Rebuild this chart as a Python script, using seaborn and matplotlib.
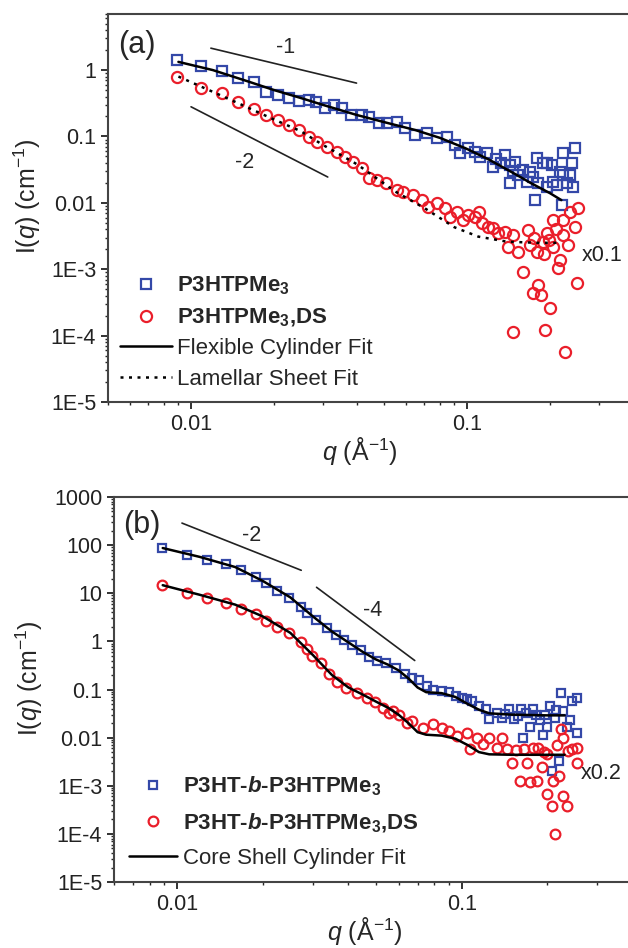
import numpy as np
import pandas as pd
import matplotlib
matplotlib.use('Agg')
import matplotlib.pyplot as plt
import matplotlib.ticker as mticker
import seaborn as sns

# ---- panel (a) data ----
qa_blue = [0.0089, 0.0109, 0.0129, 0.0148, 0.0169, 0.0187, 0.0207, 0.0227, 0.0247, 0.0268,
           0.0284, 0.0305, 0.0331, 0.0354, 0.0381, 0.0415, 0.0443, 0.0482, 0.0515, 0.0557,
           0.0595, 0.0647, 0.0715, 0.0778, 0.0846, 0.0904, 0.0943, 0.1008, 0.107, 0.1115,
           0.118, 0.1243, 0.128, 0.133, 0.1374, 0.1433, 0.1433, 0.147, 0.1494, 0.1532,
           0.1598, 0.1652, 0.1694, 0.1738, 0.1767, 0.1797, 0.1811, 0.1888, 0.1954, 0.1954,
           0.2037, 0.2055, 0.2125, 0.2180, 0.2215, 0.2234, 0.2234, 0.2310, 0.2369, 0.2409,
           0.2427, 0.2471]
Ia_blue = [1.41, 1.15, 0.97, 0.76, 0.66, 0.47, 0.42, 0.38, 0.34, 0.35,
           0.33, 0.27, 0.30, 0.27, 0.21, 0.21, 0.196, 0.16, 0.16, 0.165,
           0.134, 0.105, 0.112, 0.095, 0.098, 0.074, 0.056, 0.067, 0.058, 0.049,
           0.056, 0.035, 0.045, 0.040, 0.0525, 0.037, 0.020, 0.030, 0.041, 0.026,
           0.031, 0.0206, 0.029, 0.0245, 0.011, 0.047, 0.020, 0.040, 0.0173, 0.040,
           0.037, 0.0206, 0.0185, 0.029, 0.0093, 0.056, 0.026, 0.020, 0.026, 0.040,
           0.0173, 0.067]

qa_red = [0.0089, 0.0109, 0.0129, 0.0148, 0.0169, 0.0187, 0.0206, 0.0227, 0.0247, 0.0268,
          0.0287, 0.031, 0.0337, 0.036, 0.0385, 0.0415, 0.0443, 0.0474, 0.051, 0.0557,
          0.0585, 0.0636, 0.069, 0.0721, 0.0776, 0.0833, 0.0866, 0.0918, 0.0965, 0.101,
          0.107, 0.111, 0.113, 0.119, 0.124, 0.130, 0.137, 0.141, 0.147, 0.147,
          0.153, 0.160, 0.166, 0.169, 0.174, 0.175, 0.180, 0.181, 0.186, 0.188,
          0.19, 0.192, 0.195, 0.198, 0.200, 0.206, 0.206, 0.21, 0.213, 0.218,
          0.223, 0.223, 0.227, 0.233, 0.237, 0.247, 0.250, 0.253]
Ia_red = [0.785, 0.536, 0.45, 0.33, 0.259, 0.21, 0.177, 0.149, 0.125, 0.098,
          0.082, 0.069, 0.058, 0.049, 0.041, 0.0336, 0.0237, 0.022, 0.0198, 0.0157,
          0.0145, 0.0132, 0.011, 0.0087, 0.0100, 0.0084, 0.0061, 0.0073, 0.0055, 0.0066,
          0.0061, 0.0073, 0.0050, 0.0043, 0.0042, 0.0035, 0.0036, 0.0022, 0.0033, 0.000114,
          0.0018, 0.00090, 0.0039, 0.0023, 0.00044, 0.0030, 0.0018, 0.00058, 0.00041, 0.0026,
          0.0017, 0.000122, 0.0035, 0.0028, 0.00026, 0.0022, 0.0055, 0.0040, 0.00104, 0.00137,
          0.0033, 0.0055, 0.0000565, 0.0023, 0.0073, 0.0043, 0.00062, 0.0084]

qa_cyl = [0.009, 0.012, 0.016, 0.02, 0.025, 0.03, 0.04, 0.05, 0.065, 0.08,
          0.1, 0.12, 0.15, 0.17, 0.2, 0.22]
Ia_cyl = [1.33, 1.0, 0.68, 0.5, 0.38, 0.30, 0.21, 0.165, 0.125, 0.095,
          0.065, 0.045, 0.027, 0.02, 0.014, 0.011]

qa_lam = [0.009, 0.012, 0.015, 0.02, 0.025, 0.03, 0.04, 0.055, 0.07, 0.09,
          0.11, 0.14, 0.18, 0.22]
Ia_lam = [0.8, 0.47, 0.31, 0.18, 0.12, 0.075, 0.038, 0.0148, 0.0084, 0.0043,
          0.0031, 0.0026, 0.0025, 0.0025]

# ---- panel (b) data ----
qb_blue = [0.00886, 0.0108, 0.01275, 0.01488, 0.0168, 0.0190, 0.0206, 0.0225, 0.0248, 0.0273,
           0.0287, 0.0308, 0.0335, 0.0363, 0.0387, 0.0413, 0.0444, 0.0474, 0.0505, 0.0544,
           0.059, 0.063, 0.0671, 0.071, 0.0755, 0.079, 0.085, 0.0906, 0.0955, 0.0999,
           0.104, 0.109, 0.115, 0.122, 0.125, 0.133, 0.139, 0.142, 0.147, 0.153,
           0.158, 0.162, 0.164, 0.168, 0.174, 0.178, 0.183, 0.188, 0.193, 0.196,
           0.200, 0.204, 0.208, 0.212, 0.215, 0.220, 0.224, 0.227, 0.234, 0.240,
           0.244, 0.254, 0.254]
Ib_blue = [86.6, 61.6, 48.7, 40.2, 30.1, 21.5, 16.1, 11.0, 7.87, 5.11,
           3.9, 2.74, 1.87, 1.33, 1.05, 0.826, 0.65, 0.464, 0.40, 0.348,
           0.274, 0.215, 0.17, 0.155, 0.12, 0.096, 0.092, 0.0887, 0.075, 0.0681,
           0.062, 0.0578, 0.046, 0.040, 0.0247, 0.033, 0.026, 0.031, 0.040, 0.0247,
           0.028, 0.040, 0.0098, 0.033, 0.0165, 0.040, 0.030, 0.0232, 0.0113, 0.030,
           0.0165, 0.046, 0.0020, 0.026, 0.038, 0.0033, 0.084, 0.036, 0.0165, 0.0232,
           0.058, 0.068, 0.0122]

qb_red = [0.00886, 0.0108, 0.01275, 0.01488, 0.0168, 0.0190, 0.0206, 0.0225, 0.0248, 0.0273,
          0.0285, 0.0299, 0.0321, 0.0343, 0.0366, 0.0393, 0.0427, 0.0464, 0.0494, 0.0527,
          0.0557, 0.0574, 0.0604, 0.0640, 0.0671, 0.0729, 0.0790, 0.0856, 0.0906, 0.0959,
          0.104, 0.107, 0.113, 0.119, 0.125, 0.133, 0.139, 0.144, 0.150, 0.155,
          0.160, 0.165, 0.169, 0.174, 0.178, 0.184, 0.186, 0.191, 0.195, 0.199,
          0.199, 0.207, 0.209, 0.212, 0.216, 0.220, 0.224, 0.227, 0.227, 0.234,
          0.236, 0.244, 0.254, 0.254]
Ib_red = [14.7, 10.0, 7.87, 6.2, 4.64, 3.65, 2.61, 1.96, 1.47, 0.955,
          0.68, 0.50, 0.35, 0.215, 0.14, 0.11, 0.0826, 0.068, 0.054, 0.042,
          0.033, 0.036, 0.030, 0.0205, 0.0226, 0.0162, 0.0196, 0.0162, 0.014, 0.011,
          0.0122, 0.0059, 0.0100, 0.0075, 0.0096, 0.0062, 0.010, 0.0059, 0.0029, 0.0055,
          0.00127, 0.0058, 0.003, 0.0012, 0.0062, 0.00127, 0.0060, 0.0024, 0.0050, 0.0046,
          0.00068, 0.00038, 0.00127, 0.0001, 0.0069, 0.0016, 0.015, 0.010, 0.00061, 0.00038,
          0.0053, 0.0059, 0.0062, 0.0029]

qb_fit = [0.0089, 0.012, 0.016, 0.02, 0.025, 0.03, 0.035, 0.04, 0.045, 0.05,
          0.055, 0.06, 0.065, 0.07, 0.075, 0.085, 0.095, 0.105, 0.115, 0.125,
          0.15, 0.2, 0.23]
Ib_fit_blue = [87, 57, 35, 18, 8.2, 3.3, 1.6, 0.95, 0.6, 0.42,
               0.33, 0.25, 0.17, 0.11, 0.088, 0.084, 0.07, 0.05, 0.038, 0.032,
               0.030, 0.029, 0.029]
Ib_fit_red = [14.7, 9.3, 5.8, 3.3, 1.5, 0.52, 0.2, 0.11, 0.078, 0.056,
              0.042, 0.03, 0.02, 0.013, 0.0115, 0.011, 0.0095, 0.007, 0.005, 0.0045,
              0.0044, 0.0044, 0.0044]

BLUE = '#3448a8'
RED = '#ea1e2a'

sns.set_style('ticks')
plt.rcParams['font.family'] = ['Liberation Sans', 'DejaVu Sans']
plt.rcParams['mathtext.fontset'] = 'custom'
plt.rcParams['mathtext.rm'] = 'Liberation Sans'
plt.rcParams['mathtext.it'] = 'Liberation Sans:italic'
plt.rcParams['mathtext.bf'] = 'Liberation Sans:bold'
plt.rcParams['mathtext.bfit'] = 'Liberation Sans:bold:italic'

fig = plt.figure(figsize=(6.28, 9.48), dpi=100)
ax_a = fig.add_axes([108 / 628, 1 - 402 / 948, (633 - 108) / 628, 388 / 948])
ax_b = fig.add_axes([114 / 628, 1 - 882 / 948, (633 - 114) / 628, 385 / 948])


def yfmt(v, pos):
    if v >= 0.01:
        return f'{v:g}'
    return f'1E{int(round(np.log10(v)))}'


def style_axes(ax, xlim, ylim):
    ax.set_xscale('log')
    ax.set_yscale('log')
    ax.set_xlim(*xlim)
    ax.set_ylim(*ylim)
    ax.xaxis.set_major_locator(mticker.FixedLocator([0.01, 0.1]))
    ax.xaxis.set_major_formatter(mticker.FixedFormatter(['0.01', '0.1']))
    ax.xaxis.set_minor_locator(mticker.LogLocator(base=10, subs=np.arange(2, 10)))
    ax.xaxis.set_minor_formatter(mticker.NullFormatter())
    ax.yaxis.set_major_locator(mticker.LogLocator(base=10, numticks=20))
    ax.yaxis.set_major_formatter(mticker.FuncFormatter(yfmt))
    ax.yaxis.set_minor_locator(mticker.LogLocator(base=10, subs=np.arange(2, 10), numticks=20))
    ax.yaxis.set_minor_formatter(mticker.NullFormatter())
    ax.tick_params(which='major', direction='out', length=5, width=1.3, labelsize=15.5, colors='#222')
    ax.tick_params(which='minor', direction='out', length=2.5, width=1.0)
    ax.spines['right'].set_visible(False)
    for s in ['left', 'bottom', 'top']:
        ax.spines[s].set_linewidth(1.5)
        ax.spines[s].set_color('#444')
    ax.set_xlabel('$q$ (Å$^{-1}$)', fontsize=18)
    ax.set_ylabel('I($q$) (cm$^{-1}$)', fontsize=18)


def points(ax, q, I, marker, color, ms, label):
    df = pd.DataFrame({'q': q, 'I': I})
    sns.lineplot(data=df, x='q', y='I', ax=ax, estimator=None, sort=False,
                 linestyle='', marker=marker, markersize=ms, markerfacecolor='none',
                 markeredgecolor=color, markeredgewidth=1.6, label=label)


def fitline(ax, q, I, ls, label):
    df = pd.DataFrame({'q': q, 'I': I})
    sns.lineplot(data=df, x='q', y='I', ax=ax, estimator=None, sort=False,
                 color='black', linewidth=1.8, linestyle=ls, label=label)


# ---- panel (a) ----
points(ax_a, qa_blue, Ia_blue, 's', BLUE, 6.5, 'P3HTPMe$_\\mathbf{3}$')
points(ax_a, qa_red, Ia_red, 'o', RED, 8, 'P3HTPMe$_\\mathbf{3}$,DS')
fitline(ax_a, qa_cyl, Ia_cyl, '-', 'Flexible Cylinder Fit')
fitline(ax_a, qa_lam, Ia_lam, (0, (1.2, 2.2)), 'Lamellar Sheet Fit')
style_axes(ax_a, (0.005, 0.4), (1e-5, 7))
ax_a.plot([0.0118, 0.0398], [2.14, 0.637], color='#222', lw=1.2)
ax_a.plot([0.010, 0.0313], [0.28, 0.0245], color='#222', lw=1.2)
ax_a.text(0.0221, 2.2, '-1', fontsize=15.5, ha='center', va='center')
ax_a.text(0.0156, 0.04, '-2', fontsize=15.5, ha='center', va='center')
ax_a.text(0.31, 0.0016, 'x0.1', fontsize=15.5, ha='center', va='center', color='#222')
ax_a.text(0.00637, 2.38, '(a)', fontsize=22, ha='center', va='center')
leg = ax_a.legend(loc='lower left', bbox_to_anchor=(0.022, 0.032), frameon=False,
                  fontsize=16, handlelength=2.35, handletextpad=0.25, labelspacing=0.42,
                  borderpad=0, borderaxespad=0)
for t in leg.get_texts()[:2]:
    t.set_fontweight('bold')
ax_a.xaxis.set_label_coords(0.48, -0.085)
ax_a.yaxis.set_label_coords(-0.124, 0.53)

# ---- panel (b) ----
points(ax_b, qb_blue, Ib_blue, 's', BLUE, 6, 'P3HT-$\\mathbfit{b}$-P3HTPMe$_\\mathbf{3}$')
points(ax_b, qb_red, Ib_red, 'o', RED, 7, 'P3HT-$\\mathbfit{b}$-P3HTPMe$_\\mathbf{3}$,DS')
fitline(ax_b, qb_fit, Ib_fit_blue, '-', 'Core Shell Cylinder Fit')
fitline(ax_b, qb_fit, Ib_fit_red, '-', None)
style_axes(ax_b, (0.006, 0.4), (1e-5, 1000))
ax_b.plot([0.0104, 0.0273], [287, 30], color='#222', lw=1.2)
ax_b.plot([0.0309, 0.0684], [13.3, 0.40], color='#222', lw=1.2)
ax_b.text(0.0182, 161, '-2', fontsize=15.5, ha='center', va='center')
ax_b.text(0.0486, 4.4, '-4', fontsize=15.5, ha='center', va='center')
ax_b.text(0.31, 0.00178, 'x0.2', fontsize=15.5, ha='center', va='center', color='#222')
ax_b.text(0.00753, 261, '(b)', fontsize=22, ha='center', va='center')
h, l = ax_b.get_legend_handles_labels()
leg = ax_b.legend(h[:3], l[:3], loc='lower left', bbox_to_anchor=(0.028, 0.034), frameon=False,
                  fontsize=16, handlelength=2.2, handletextpad=0.25, labelspacing=0.6,
                  borderpad=0, borderaxespad=0)
for t in leg.get_texts()[:2]:
    t.set_fontweight('bold')
ax_b.xaxis.set_label_coords(0.484, -0.086)
ax_b.yaxis.set_label_coords(-0.133, 0.53)

fig.savefig('out.png', dpi=100)
